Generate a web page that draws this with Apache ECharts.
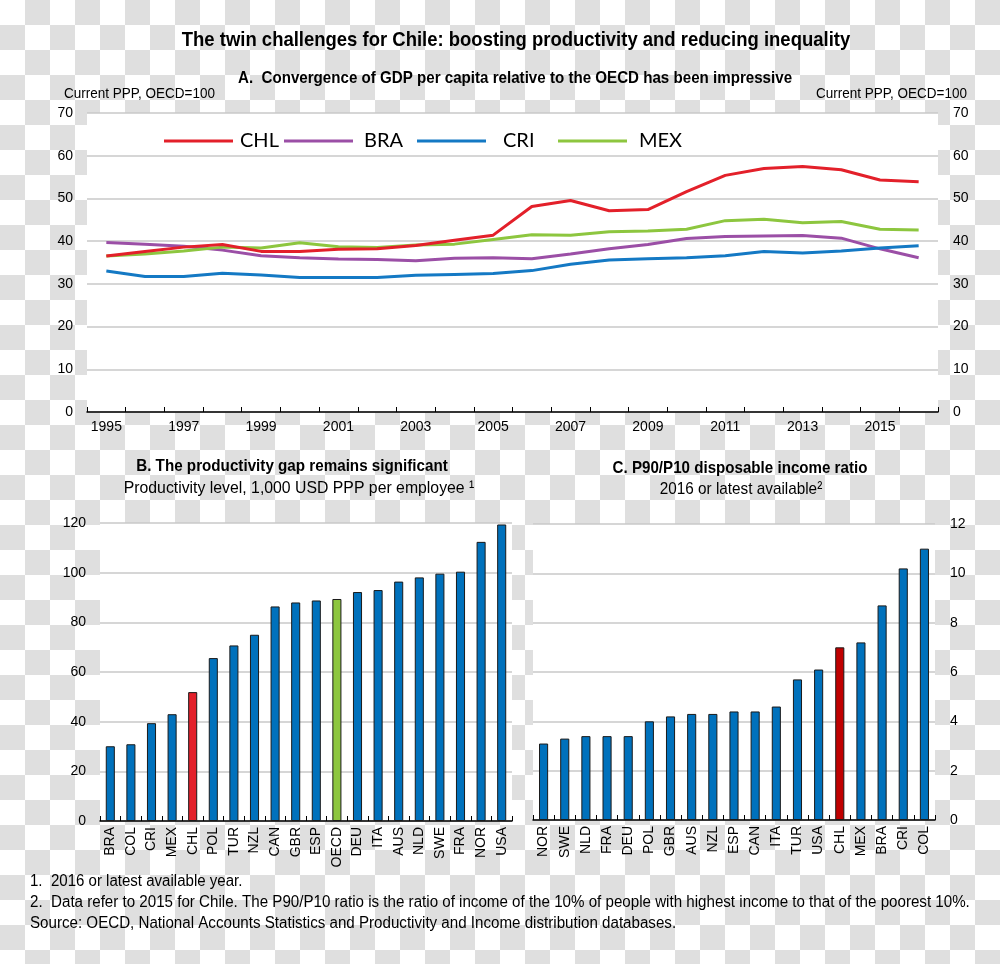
<!DOCTYPE html>
<html>
<head>
<meta charset="utf-8">
<script src="https://cdn.jsdelivr.net/npm/echarts@6/dist/echarts.min.js"></script>
<style>
html,body{margin:0;padding:0;}
body{width:1000px;height:964px;background:repeating-conic-gradient(#dfdfdf 0% 25%, #ffffff 0% 50%) 0 0/50px 50px;}
#chart{width:1000px;height:964px;}
</style>
</head>
<body>
<div id="chart"></div>
<script>
// ---- Panel A data ----
const years = ['1995','1996','1997','1998','1999','2000','2001','2002','2003','2004','2005','2006','2007','2008','2009','2010','2011','2012','2013','2014','2015','2016'];
const chl = [36.5,37.6,38.6,39.2,37.6,37.6,38.1,38.2,39.0,40.2,41.4,48.1,49.5,47.1,47.4,51.6,55.4,57.0,57.5,56.7,54.3,53.9];
const bra = [39.7,39.3,38.8,37.9,36.6,36.1,35.8,35.7,35.4,36.0,36.1,35.9,37.0,38.2,39.2,40.6,41.1,41.2,41.3,40.7,38.2,36.1];
const cri = [33.0,31.7,31.7,32.5,32.1,31.5,31.5,31.5,32.0,32.2,32.4,33.1,34.6,35.6,35.9,36.1,36.6,37.6,37.2,37.7,38.4,38.9];
const mex = [36.5,37.0,37.7,38.6,38.4,39.6,38.7,38.5,39.1,39.3,40.4,41.5,41.4,42.2,42.4,42.8,44.8,45.1,44.3,44.6,42.8,42.6];
// ---- Panel B data ----
const prodCountries = ['BRA','COL','CRI','MEX','CHL','POL','TUR','NZL','CAN','GBR','ESP','OECD','DEU','ITA','AUS','NLD','SWE','FRA','NOR','USA'];
const prodValues = [30.1,30.9,39.4,43.0,51.9,65.6,70.7,75.0,86.4,88.0,88.8,89.4,92.2,93.0,96.4,98.1,99.6,100.4,112.4,119.4];
// ---- Panel C data ----
const ineqCountries = ['NOR','SWE','NLD','FRA','DEU','POL','GBR','AUS','NZL','ESP','CAN','ITA','TUR','USA','CHL','MEX','BRA','CRI','COL'];
const ineqValues = [3.1,3.3,3.4,3.4,3.4,4.0,4.2,4.3,4.3,4.4,4.4,4.6,5.7,6.1,7.0,7.2,8.7,10.2,11.0];

const NARROW = '"Liberation Sans", Arial, sans-serif';
const LEG = 'Lato, "Open Sans", sans-serif';
const BLUE = '#0071bc', RED = '#e3202a', DARKRED = '#c00000', GREEN = '#8dc63f', PURPLE = '#9b4fa6', LBLUE = '#1479c4';
const GRIDC = '#c9c9c9';

const chart = echarts.init(document.getElementById('chart'), null, {renderer:'canvas'});

function txt(text, x, y, size, weight, align, sx){
  return {type:'text', x:x, y:y, scaleX:sx||1,
    style:{text:text, fill:'#000', font:(weight||'normal')+' '+size+'px '+NARROW, textAlign:align||'center', textVerticalAlign:'middle'}};
}

const catAxisBase = {
  type:'category', boundaryGap:true,
  axisLine:{show:true, lineStyle:{color:'#000', width:1.5}},
  axisTick:{show:true, inside:true, length:5, interval:0, lineStyle:{color:'#000', width:1}},
  splitLine:{show:false}
};

const option = {
  backgroundColor:'transparent',
  animation:false,
  graphic:[
    txt('The twin challenges for Chile: boosting productivity and reducing inequality', 516, 40, 21, 'bold', 'center', 0.88),
    txt('A.  Convergence of GDP per capita relative to the OECD has been impressive', 515, 78, 17, 'bold', 'center', 0.89),
    txt('Current PPP, OECD=100', 64, 94, 15, 'normal', 'left', 0.9),
    txt('Current PPP, OECD=100', 967, 94, 15, 'normal', 'right', 0.9),
    txt('B. The productivity gap remains significant', 292, 466, 17, 'bold', 'center', 0.894),
    txt('Productivity level, 1,000 USD PPP per employee \u00b9', 299, 488, 17, 'normal', 'center', 0.93),
    txt('C. P90/P10 disposable income ratio', 740, 468, 17, 'bold', 'center', 0.89),
    txt('2016 or latest available\u00b2', 741, 489, 17, 'normal', 'center', 0.9),
    txt('1.  2016 or latest available year.', 30, 882, 16, 'normal', 'left', 0.94),
    txt('2.  Data refer to 2015 for Chile. The P90/P10 ratio is the ratio of income of the 10% of people with highest income to that of the poorest 10%.', 30, 903, 16, 'normal', 'left', 0.946),
    txt('Source: OECD, National Accounts Statistics and Productivity and Income distribution databases.', 30, 924, 16, 'normal', 'left', 0.946)
  ],
  legend:[
    {data:['CHL'], left:164, top:131, textStyle:{padding:[0,0,0,2]}},
    {data:['BRA'], left:284, top:131, textStyle:{padding:[0,0,0,6]}},
    {data:['CRI'], left:417, top:131, textStyle:{padding:[0,0,0,12]}},
    {data:['MEX'], left:558, top:131, textStyle:{padding:[0,0,0,7]}}
  ].map(l => ({icon:'rect', itemWidth:69, itemHeight:3, itemGap:10, padding:0,
      data:l.data, left:l.left, top:l.top,
      textStyle:{fontSize:20, fontFamily:LEG, color:'#000', padding:l.textStyle.padding}})),
  grid:[
    {left:87, right:62, top:113, height:299, show:true, backgroundColor:'#fff', borderWidth:0},
    {left:100, width:412, top:523, height:298, show:true, backgroundColor:'#fff', borderWidth:0},
    {left:533, width:402, top:524, height:296, show:true, backgroundColor:'#fff', borderWidth:0}
  ],
  xAxis:[
    Object.assign({}, catAxisBase, {gridIndex:0, data:years,
      axisLabel:{interval:1, fontSize:14, color:'#000', fontFamily:NARROW, margin:8}}),
    Object.assign({}, catAxisBase, {gridIndex:1, data:prodCountries,
      axisLabel:{interval:0, rotate:90, fontSize:14, color:'#000', fontFamily:NARROW, margin:6}}),
    Object.assign({}, catAxisBase, {gridIndex:2, data:ineqCountries,
      axisLabel:{interval:0, rotate:90, fontSize:14, color:'#000', fontFamily:NARROW, margin:6}})
  ],
  yAxis:[
    {gridIndex:0, type:'value', min:0, max:70, interval:10, position:'left',
     axisLine:{show:false}, axisTick:{show:false},
     splitLine:{show:true, lineStyle:{color:GRIDC, width:1.5}},
     axisLabel:{fontSize:14, color:'#000', fontFamily:NARROW, margin:14}},
    {gridIndex:0, type:'value', min:0, max:70, interval:10, position:'right',
     axisLine:{show:false}, axisTick:{show:false}, splitLine:{show:false},
     axisLabel:{fontSize:14, color:'#000', fontFamily:NARROW, margin:15}},
    {gridIndex:1, type:'value', min:0, max:120, interval:20, position:'left',
     axisLine:{show:false}, axisTick:{show:false},
     splitLine:{show:true, lineStyle:{color:GRIDC, width:1.5}},
     axisLabel:{fontSize:14, color:'#000', fontFamily:NARROW, margin:14}},
    {gridIndex:2, type:'value', min:0, max:12, interval:2, position:'right',
     axisLine:{show:false}, axisTick:{show:false},
     splitLine:{show:true, lineStyle:{color:GRIDC, width:1.5}},
     axisLabel:{fontSize:14, color:'#000', fontFamily:NARROW, margin:15}}
  ],
  series:[
    {name:'CHL', type:'line', xAxisIndex:0, yAxisIndex:0, data:chl, showSymbol:false, symbol:'none', color:RED, lineStyle:{width:3, color:RED}, z:5},
    {name:'BRA', type:'line', xAxisIndex:0, yAxisIndex:0, data:bra, showSymbol:false, symbol:'none', color:PURPLE, lineStyle:{width:3, color:PURPLE}, z:3},
    {name:'CRI', type:'line', xAxisIndex:0, yAxisIndex:0, data:cri, showSymbol:false, symbol:'none', color:LBLUE, lineStyle:{width:3, color:LBLUE}, z:3},
    {name:'MEX', type:'line', xAxisIndex:0, yAxisIndex:0, data:mex, showSymbol:false, symbol:'none', color:GREEN, lineStyle:{width:3, color:GREEN}, z:4},
    {name:'prod', type:'bar', xAxisIndex:1, yAxisIndex:2, barWidth:'44%',
     data:prodValues.map((v,i)=>({value:v, itemStyle:{color: prodCountries[i]==='CHL'?RED:(prodCountries[i]==='OECD'?GREEN:BLUE)}})),
     itemStyle:{borderColor:'#1a1a1a', borderWidth:1}},
    {name:'ineq', type:'bar', xAxisIndex:2, yAxisIndex:3, barWidth:'43%',
     data:ineqValues.map((v,i)=>({value:v, itemStyle:{color: ineqCountries[i]==='CHL'?DARKRED:BLUE}})),
     itemStyle:{borderColor:'#1a1a1a', borderWidth:1}}
  ]
};
chart.setOption(option);
</script>
</body>
</html>
